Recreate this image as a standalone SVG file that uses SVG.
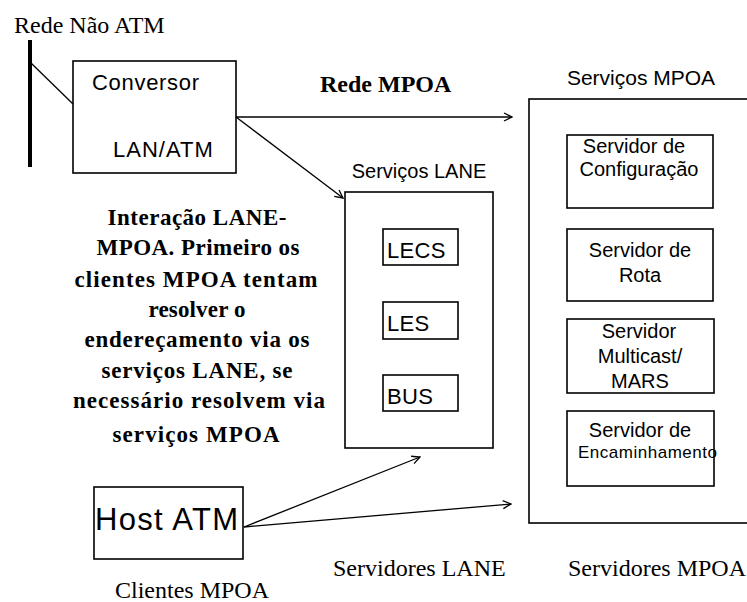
<svg xmlns="http://www.w3.org/2000/svg" width="747" height="602" viewBox="0 0 747 602">
  <defs>
    <marker id="open-arrow" viewBox="0 0 10 10" refX="9" refY="5" markerWidth="10" markerHeight="10" markerUnits="userSpaceOnUse" orient="auto">
      <path d="M1,1 L9,5 L1,9" fill="none" stroke="#000" stroke-width="1.3"/>
    </marker>
  </defs>
  <style>
    .box { fill: #fff; stroke: #000; stroke-width: 1.6; }
    .sans { font-family: "Liberation Sans", Arial, sans-serif; fill: #000; }
    .serif { font-family: "Liberation Serif", "Times New Roman", serif; fill: #000; }
    .bold { font-weight: bold; }
    .conn { stroke: #000; stroke-width: 1.3; fill: none; }
    .mid { text-anchor: middle; }
  </style>
  <rect width="747" height="602" fill="#fff"/>

  <!-- non-ATM LAN segment -->
  <g id="rede-nao-atm">
    <text class="serif" x="14" y="33" font-size="24">Rede Não ATM</text>
    <rect x="28" y="40" width="4" height="127" fill="#000"/>
  </g>

  <!-- LAN/ATM converter -->
  <g id="conversor">
    <rect class="box" x="73" y="61" width="163" height="112"/>
    <text class="sans" x="92" y="90" font-size="22" letter-spacing="0.7">Conversor</text>
    <text class="sans" x="113" y="157" font-size="22" letter-spacing="1">LAN/ATM</text>
  </g>

  <text class="serif bold" x="320" y="92" font-size="24">Rede MPOA</text>

  <!-- LANE services -->
  <g id="servicos-lane">
    <text class="sans mid" x="419" y="178" font-size="20">Serviços LANE</text>
    <rect class="box" x="345" y="192" width="148" height="256"/>
  </g>
  <g id="lecs">
    <rect class="box" x="383" y="229" width="75" height="36"/>
    <text class="sans" x="387" y="258" font-size="22" letter-spacing="0.3">LECS</text>
  </g>
  <g id="les">
    <rect class="box" x="383" y="302" width="75" height="37"/>
    <text class="sans" x="387" y="331" font-size="22" letter-spacing="0.3">LES</text>
  </g>
  <g id="bus">
    <rect class="box" x="383" y="375" width="75" height="36"/>
    <text class="sans" x="387" y="404" font-size="22" letter-spacing="0.3">BUS</text>
  </g>

  <!-- MPOA services -->
  <g id="servicos-mpoa">
    <text class="sans mid" x="641" y="85" font-size="21">Serviços MPOA</text>
    <rect class="box" x="529" y="99" width="230" height="424"/>
  </g>
  <g id="servidor-configuracao">
    <rect class="box" x="567" y="135" width="146" height="73"/>
    <text class="sans mid" x="634" y="153" font-size="20">Servidor de</text>
    <text class="sans mid" x="639" y="176" font-size="20">Configuração</text>
  </g>
  <g id="servidor-rota">
    <rect class="box" x="567" y="229" width="146" height="72"/>
    <text class="sans mid" x="640" y="257" font-size="20">Servidor de</text>
    <text class="sans mid" x="640" y="282" font-size="20">Rota</text>
  </g>
  <g id="servidor-multicast">
    <rect class="box" x="567" y="319" width="147" height="74"/>
    <text class="sans mid" x="639" y="338" font-size="20">Servidor</text>
    <text class="sans mid" x="640" y="363" font-size="20">Multicast/</text>
    <text class="sans mid" x="640" y="388" font-size="20">MARS</text>
  </g>
  <g id="servidor-encaminhamento">
    <rect class="box" x="567" y="411" width="147" height="75"/>
    <text class="sans mid" x="640" y="437" font-size="20">Servidor de</text>
    <text class="sans" x="578" y="458" font-size="17" textLength="139" lengthAdjust="spacing">Encaminhamento</text>
  </g>

  <!-- ATM host -->
  <g id="host-atm">
    <rect class="box" x="94" y="487" width="149" height="72"/>
    <text class="sans" x="95" y="530" font-size="31" textLength="143" lengthAdjust="spacing">Host ATM</text>
  </g>

  <!-- explanatory note -->
  <g id="nota" class="serif bold mid" font-size="23">
    <text x="197" y="225" textLength="179" lengthAdjust="spacing">Interação LANE-</text>
    <text x="198" y="255" textLength="203" lengthAdjust="spacing">MPOA. Primeiro os</text>
    <text x="196" y="287" textLength="243" lengthAdjust="spacing">clientes MPOA tentam</text>
    <text x="197" y="317" textLength="97" lengthAdjust="spacing">resolver o</text>
    <text x="197" y="347" textLength="225" lengthAdjust="spacing">endereçamento via os</text>
    <text x="197" y="378" textLength="191" lengthAdjust="spacing">serviços LANE, se</text>
    <text x="199" y="408" textLength="252" lengthAdjust="spacing">necessário resolvem via</text>
    <text x="196" y="442" textLength="167" lengthAdjust="spacing">serviços MPOA</text>
  </g>

  <!-- captions -->
  <text class="serif" x="333" y="576" font-size="24">Servidores LANE</text>
  <text class="serif" x="568" y="576" font-size="24">Servidores MPOA</text>
  <text class="serif" x="115" y="598" font-size="24">Clientes MPOA</text>

  <!-- connectors -->
  <g id="conectores">
    <line class="conn" x1="31" y1="63" x2="73" y2="104"/>
    <line class="conn" x1="236" y1="117" x2="512" y2="117" marker-end="url(#open-arrow)"/>
    <line class="conn" x1="236" y1="117" x2="343" y2="198" marker-end="url(#open-arrow)"/>
    <line class="conn" x1="244" y1="527" x2="420" y2="457" marker-end="url(#open-arrow)"/>
    <line class="conn" x1="244" y1="527" x2="511" y2="504" marker-end="url(#open-arrow)"/>
  </g>
</svg>
